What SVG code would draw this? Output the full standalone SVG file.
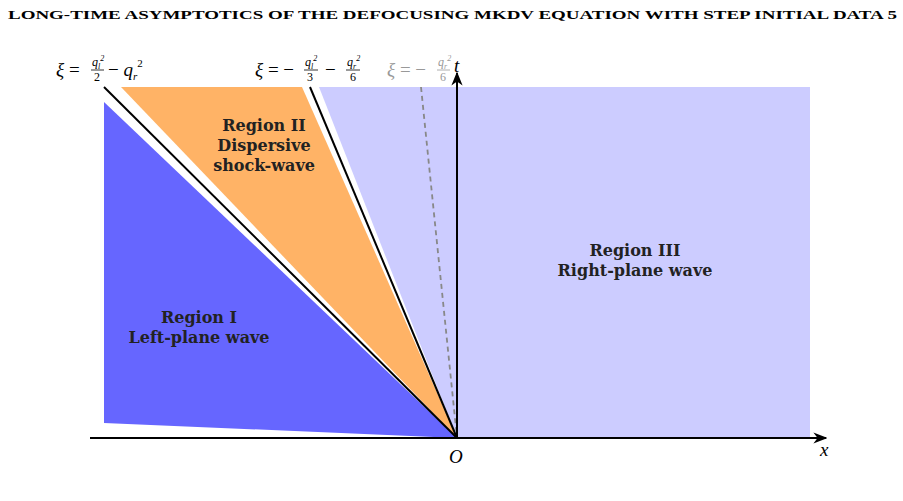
<svg xmlns="http://www.w3.org/2000/svg" width="903" height="501" viewBox="0 0 903 501">
<defs>
<style>
text{font-family:"Liberation Serif","DejaVu Serif",serif}
.it{font-style:italic}
.lab{font-family:"DejaVu Serif",serif;font-size:16px;font-weight:bold;text-anchor:middle;fill:#222}
.m{font-size:19px}
.s{font-size:12px}
.ln{stroke:#000;stroke-width:2;fill:none}
</style>
<marker id="ar" viewBox="0 0 10 10" refX="9" refY="5" markerWidth="7" markerHeight="7" orient="auto"><path d="M0,1 L10,5 L0,9 L3,5z" fill="#000"/></marker>
</defs>
<rect width="903" height="501" fill="#fff"/>
<text x="8" y="19" textLength="889" lengthAdjust="spacingAndGlyphs" style="font-size:12px;font-weight:bold">LONG-TIME ASYMPTOTICS OF THE DEFOCUSING MKDV EQUATION  WITH STEP INITIAL DATA 5</text>
<g id="region3"><polygon points="319,87 810,87 810,438 457,438" fill="#ccccff"/></g>
<g id="region1"><polygon points="104,102 104,423 457,438" fill="#6666ff"/></g>
<g id="region2"><polygon points="121,87 302,87 457,438" fill="#ffb366"/></g>
<g id="connectors">
<line class="ln" x1="104" y1="87" x2="457" y2="438"/>
<line class="ln" x1="310" y1="87" x2="457" y2="438"/>
<line x1="421" y1="87" x2="457" y2="438" stroke="#888" stroke-width="1.8" stroke-dasharray="5,4"/>
<line class="ln" x1="90" y1="438" x2="826" y2="438" marker-end="url(#ar)"/>
<line class="ln" x1="457" y1="438" x2="457" y2="73" marker-end="url(#ar)"/>
</g>
<g id="labels">
<text class="lab" x="264" y="131">Region II</text>
<text class="lab" x="264" y="151">Dispersive</text>
<text class="lab" x="264" y="171">shock-wave</text>
<text class="lab" x="199" y="323">Region I</text>
<text class="lab" x="199" y="343">Left-plane wave</text>
<text class="lab" x="635" y="256">Region III</text>
<text class="lab" x="635" y="276">Right-plane wave</text>
<text class="m it" x="449" y="463">O</text>
<text class="m it" x="820" y="456">x</text>
<text class="m it" x="454" y="72">t</text>
<text class="m" x="56" y="76"><tspan class="it">ξ</tspan> =</text>
<text class="s it" x="92" y="66">q<tspan font-size="8" dy="3">l</tspan><tspan font-size="8" dy="-8">2</tspan></text>
<line x1="91" y1="70" x2="104" y2="70" stroke="#000" stroke-width="0.8"/>
<text class="s" x="94" y="81">2</text>
<text class="m" x="108" y="76">− <tspan class="it">q</tspan><tspan font-size="11" dy="4" class="it">r</tspan><tspan font-size="11" dy="-13">2</tspan></text>
<text class="m" x="255" y="76"><tspan class="it">ξ</tspan> = −</text>
<text class="s it" x="305" y="66">q<tspan font-size="8" dy="3">l</tspan><tspan font-size="8" dy="-8">2</tspan></text>
<line x1="304" y1="70" x2="318" y2="70" stroke="#000" stroke-width="0.8"/>
<text class="s" x="307" y="81">3</text>
<text class="m" x="325" y="76">−</text>
<text class="s it" x="347" y="66">q<tspan font-size="8" dy="3">r</tspan><tspan font-size="8" dy="-8">2</tspan></text>
<line x1="346" y1="70" x2="360" y2="70" stroke="#000" stroke-width="0.8"/>
<text class="s" x="350" y="81">6</text>
<g fill="#999">
<text class="m" x="387" y="76"><tspan class="it">ξ</tspan> = −</text>
<text class="s it" x="438" y="66">q<tspan font-size="8" dy="3">r</tspan><tspan font-size="8" dy="-8">2</tspan></text>
<line x1="437" y1="70" x2="450" y2="70" stroke="#999" stroke-width="0.8"/>
<text class="s" x="440" y="81">6</text>
</g>
</g>
</svg>
